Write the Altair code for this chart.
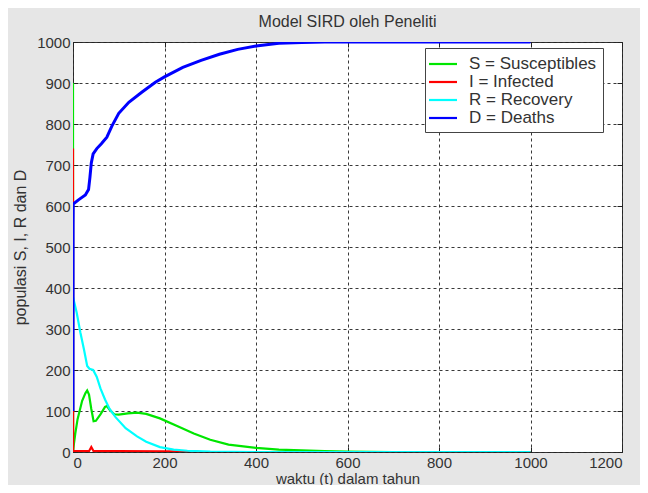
import altair as alt
import pandas as pd

# ---- data ----
labels = ["S = Susceptibles", "I = Infected", "R = Recovery", "D = Deaths"]
colors = ["#00e600", "#ff0000", "#00ffff", "#0000ff"]
widths = [2.2, 2.2, 2.2, 3.0]

t_S = [0, 0.3, 2, 5, 10, 20, 27, 31, 35, 40, 45, 50, 60, 70, 74, 80, 90, 100, 120, 140, 160, 190, 230, 264, 300, 340, 400, 450, 500, 550, 600, 700, 1000]
v_S = [900, 0, 20, 45, 80, 125, 143, 150, 140, 105, 75, 76, 92, 110, 112, 103, 92, 91, 94, 96, 93, 82, 62, 45, 30, 18, 10, 6, 4, 2, 1, 0, 0]

t_I = [0, 0.3, 35, 40, 45, 100, 200, 270, 280, 1000]
v_I = [740, 2, 2, 12, 2, 2, 1.5, 1, 0, 0]

t_R = [0, 8, 16, 24, 31, 36, 44, 52, 60, 70, 80, 93, 115, 140, 160, 190, 220, 250, 300, 400, 1000]
v_R = [378, 340, 292, 250, 210, 203, 200, 183, 155, 128, 105, 85, 58, 38, 25, 12, 6, 3, 1, 0, 0]

t_D = [0, 0.2, 0.5, 12, 27, 34, 37, 40, 44, 52, 62, 74, 85, 100, 122, 151, 180, 200, 240, 280, 320, 360, 400, 450, 500, 550, 1000]
v_D = [100, 555, 605, 615, 627, 640, 670, 705, 727, 740, 752, 768, 795, 826, 853, 878, 902, 915, 938, 955, 970, 982, 990, 997, 999, 1000, 1000]

x_ticks = [0, 200, 400, 600, 800, 1000, 1200]
y_ticks = [0, 100, 200, 300, 400, 500, 600, 700, 800, 900, 1000]

rows = []
for k, (ts, vs) in enumerate([(t_S, v_S), (t_I, v_I), (t_R, v_R), (t_D, v_D)]):
    for i, (t, v) in enumerate(zip(ts, vs)):
        rows.append({"t": t, "v": v, "series": labels[k], "w": widths[k], "idx": i, "grp": k})
df = pd.DataFrame(rows)

FONT = "Liberation Sans"

x_scale = alt.Scale(domain=[0, 1200], nice=False, zero=False)
y_scale = alt.Scale(domain=[0, 1000], nice=False, zero=False)

lines = alt.Chart(df).mark_line(clip=True).encode(
    x=alt.X("t:Q", scale=x_scale,
            axis=alt.Axis(values=x_ticks, format="d", grid=True, gridDash=[3, 3], gridColor="#222",
                          gridOpacity=0.9, domain=False, tickSize=5, tickColor="#222",
                          offset=-5, labelPadding=3, labelFontSize=15, labelColor="#333",
                          title="waktu (t) dalam tahun", titleFontSize=15,
                          titleFontWeight="normal", titleColor="#333", titlePadding=1)),
    y=alt.Y("v:Q", scale=y_scale,
            axis=alt.Axis(values=y_ticks, format="d", grid=True, gridDash=[3, 3], gridColor="#222",
                          gridOpacity=0.9, domain=False, tickSize=5, tickColor="#222",
                          offset=-5, labelPadding=3, labelFontSize=15, labelColor="#333",
                          title="populasi S, I, R dan D", titleFontSize=16,
                          titleFontWeight="normal", titleColor="#333", titlePadding=8)),
    color=alt.Color("series:N", scale=alt.Scale(domain=labels, range=colors),
                    legend=alt.Legend(title=None, orient="none", legendX=352, legendY=6,
                                      symbolType="M-1.65,0H1.65", symbolSize=289, symbolStrokeWidth=2.2,
                                      symbolOffset=2,
                                      labelFontSize=17, labelColor="#333", fillColor="white",
                                      strokeColor="#444", padding=6, rowPadding=0,
                                      labelOffset=16, cornerRadius=0)),
    strokeWidth=alt.StrokeWidth("w:Q", scale=None),
    detail="grp:N",
    order="idx:Q",
)

frame = alt.Chart(df).mark_point(opacity=0).encode(
    x=alt.X("t:Q", scale=x_scale,
            axis=alt.Axis(orient="top", values=x_ticks, labels=False, grid=False, domain=False,
                          tickSize=5, tickColor="#222", offset=-5, title=None)),
    y=alt.Y("v:Q", scale=y_scale,
            axis=alt.Axis(orient="right", values=y_ticks, labels=False, grid=False, domain=False,
                          tickSize=5, tickColor="#222", offset=-5, title=None)),
)

chart = alt.layer(lines, frame).resolve_axis(x="independent", y="independent").properties(
    width=549, height=410,
    title=alt.TitleParams("Model SIRD oleh Peneliti", fontSize=16, fontWeight="normal",
                          color="#333", offset=5, font=FONT),
    background="#e6e6e6",
    padding={"left": 65, "top": 34, "right": 18, "bottom": 33},
    autosize=alt.AutoSizeParams(type="none"),
).configure(font=FONT).configure_view(fill="white", stroke="#333", strokeWidth=1)

chart.save("out.html", embed_options={"renderer": "svg", "actions": False})
